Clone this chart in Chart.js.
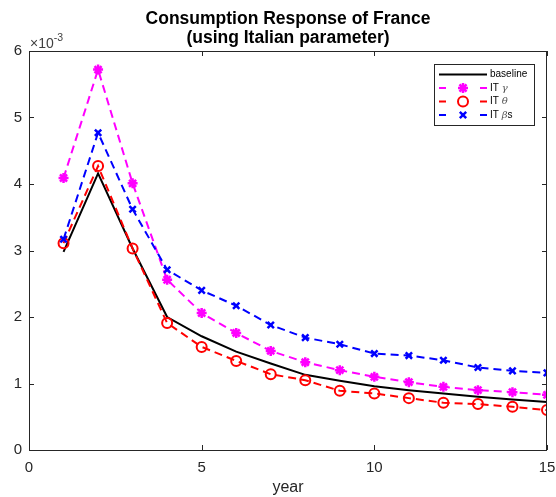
<!DOCTYPE html>
<html><head><meta charset="utf-8">
<script src="https://cdn.jsdelivr.net/npm/chart.js@4/dist/chart.umd.min.js"></script>
<style>html,body{margin:0;padding:0;background:#fff}</style>
</head><body>
<canvas id="c" width="556" height="497"></canvas>
<script>
// Data (values in units of 1e-3)
const years = [1,2,3,4,5,6,7,8,9,10,11,12,13,14,15];
const baseline = [2.98,4.16,3.03,2.00,1.71,1.48,1.30,1.13,1.04,0.96,0.90,0.85,0.80,0.76,0.72];
const itGamma  = [4.09,5.72,4.01,2.56,2.06,1.76,1.49,1.32,1.20,1.10,1.02,0.95,0.90,0.87,0.83];
const itTheta  = [3.11,4.27,3.03,1.91,1.55,1.34,1.14,1.05,0.89,0.85,0.78,0.71,0.69,0.65,0.60];
const itBeta   = [3.17,4.77,3.62,2.71,2.40,2.17,1.88,1.69,1.59,1.45,1.42,1.35,1.24,1.19,1.16];
const xTicks = [0,5,10,15];
const yTicks = [0,1,2,3,4,5,6];
const titleLines = ['Consumption Response of France','(using Italian parameter)'];
const xLabel = 'year';
const legendLabels = [['baseline',''],['IT ','γ'],['IT ','θ'],['IT ','β','s']];

const FONT = "'Liberation Sans', Arial, Helvetica, sans-serif";
const AX = '#262626';

function pts(arr){ return years.map((x,i)=>({x:x, y:arr[i]})); }

const datasets = [
  {label:'baseline', data:pts(baseline), borderColor:'#000000', borderWidth:2, pointRadius:0, order:4, fill:false},
  {label:'IT gamma', data:pts(itGamma), borderColor:'#ff00ff', backgroundColor:'#ff00ff', borderWidth:2, borderDash:[8,5],
   pointStyle:'star', pointRadius:5, pointBorderWidth:2.5, pointBorderColor:'#ff00ff', pointBackgroundColor:'#ff00ff', order:3, fill:false},
  {label:'IT theta', data:pts(itTheta), borderColor:'#ff0000', borderWidth:2, borderDash:[8,5],
   pointStyle:'circle', pointRadius:5, pointBorderWidth:2, pointBorderColor:'#ff0000', pointBackgroundColor:'rgba(0,0,0,0)', order:2, fill:false},
  {label:'IT beta', data:pts(itBeta), borderColor:'#0000ff', borderWidth:2, borderDash:[8,5],
   pointStyle:'crossRot', pointRadius:4.5, pointBorderWidth:2.5, pointBorderColor:'#0000ff', pointBackgroundColor:'#0000ff', order:1, fill:false}
];

const boxPlugin = {
  id:'box',
  afterDraw(chart){
    const ctx = chart.ctx, a = chart.chartArea;
    const xs = chart.scales.x, ys = chart.scales.y;
    ctx.save();
    ctx.strokeStyle = AX; ctx.lineWidth = 1;
    ctx.strokeRect(a.left+0.5, a.top+0.5, a.right-a.left-1, a.bottom-a.top);
    const tl = 5;
    ctx.beginPath();
    xTicks.forEach(v=>{
      const px = Math.round(xs.getPixelForValue(v))+0.5;
      ctx.moveTo(px, a.bottom); ctx.lineTo(px, a.bottom-tl);
      ctx.moveTo(px, a.top); ctx.lineTo(px, a.top+tl);
    });
    yTicks.forEach(v=>{
      const py = Math.round(ys.getPixelForValue(v))+0.5;
      ctx.moveTo(a.left, py); ctx.lineTo(a.left+tl, py);
      ctx.moveTo(a.right, py); ctx.lineTo(a.right-tl, py);
    });
    ctx.stroke();
    // exponent label
    ctx.fillStyle = '#404040';
    ctx.textBaseline = 'alphabetic';
    ctx.font = '14px ' + FONT;
    ctx.fillText('×10', a.left+1, a.top-3);
    const w = ctx.measureText('×10').width;
    ctx.font = '10.5px ' + FONT;
    ctx.fillText('-3', a.left+1+w, a.top-10);

    // legend
    const lx = 434, ly = 64, lw = 100, lh = 61;
    ctx.fillStyle = '#ffffff';
    ctx.fillRect(lx, ly, lw, lh);
    ctx.strokeStyle = AX; ctx.lineWidth = 1;
    ctx.strokeRect(lx+0.5, ly+0.5, lw, lh);
    const rows = [74.5, 88, 101.5, 115];
    chart.data.datasets.forEach((ds,i)=>{
      const y = rows[i];
      const x0 = 439, x1 = 487, xm = (x0+x1)/2;
      ctx.strokeStyle = ds.borderColor; ctx.lineWidth = 2; ctx.setLineDash([]);
      ctx.beginPath();
      if (i===0){ ctx.moveTo(x0,y); ctx.lineTo(x1,y); }
      else { ctx.moveTo(x0,y); ctx.lineTo(x0+7,y); ctx.moveTo(x1-7,y); ctx.lineTo(x1,y); }
      ctx.stroke();
      if (i>0){
        ctx.fillStyle = ds.pointBackgroundColor; ctx.strokeStyle = ds.pointBorderColor;
        ctx.lineWidth = ds.pointBorderWidth;
        Chart.helpers.drawPoint(ctx, {pointStyle:ds.pointStyle, radius:ds.pointRadius, rotation:0, borderWidth:ds.pointBorderWidth}, xm, y);
      }
      const lab = legendLabels[i];
      ctx.fillStyle = '#000'; ctx.textBaseline = 'middle';
      let tx = 490;
      ctx.font = '10px ' + FONT;
      ctx.fillText(lab[0], tx, y); tx += ctx.measureText(lab[0]).width;
      if (lab[1]){ ctx.font = 'italic 10px ' + "'DejaVu Serif', serif"; ctx.fillStyle='#555'; ctx.fillText(lab[1], tx, y); tx += ctx.measureText(lab[1]).width; }
      if (lab[2]){ ctx.font = '10px ' + FONT; ctx.fillStyle='#000'; ctx.fillText(lab[2], tx, y); }
    });
    ctx.restore();
  }
};

new Chart(document.getElementById('c'), {
  type:'line',
  data:{ datasets },
  options:{
    responsive:false, animation:false, events:[],
    layout:{ padding:{ left:0, right:9, top:0, bottom:0 } },
    plugins:{
      legend:{ display:false }, tooltip:{ enabled:false },
      title:{ display:true, fullSize:false, text:titleLines, color:'#000',
        font:{ family:FONT, size:17.5, weight:'bold', lineHeight:1.12 }, padding:{ top:9, bottom:2.8 } }
    },
    elements:{ line:{ tension:0 } },
    scales:{
      x:{ type:'linear', min:0, max:15,
        afterFit(s){ s.height = 47; s.paddingLeft = 0; s.paddingRight = 0; },
        afterBuildTicks(s){ s.ticks = xTicks.map(v=>({value:v})); },
        grid:{ display:false, drawTicks:false },
        border:{ display:false },
        ticks:{ color:AX, font:{ family:FONT, size:15 }, padding:9, maxRotation:0 },
        title:{ display:true, text:xLabel, color:AX, font:{ family:FONT, size:16 }, padding:{ top:2, bottom:0 } }
      },
      y:{ type:'linear', min:0, max:6,
        afterFit(s){ s.width = 29; s.paddingTop = 0; s.paddingBottom = 0; },
        afterBuildTicks(s){ s.ticks = yTicks.map(v=>({value:v})); },
        grid:{ display:false, drawTicks:false },
        border:{ display:false },
        ticks:{ color:AX, font:{ family:FONT, size:15 }, padding:7 }
      }
    }
  },
  plugins:[boxPlugin]
});
</script>
</body></html>
